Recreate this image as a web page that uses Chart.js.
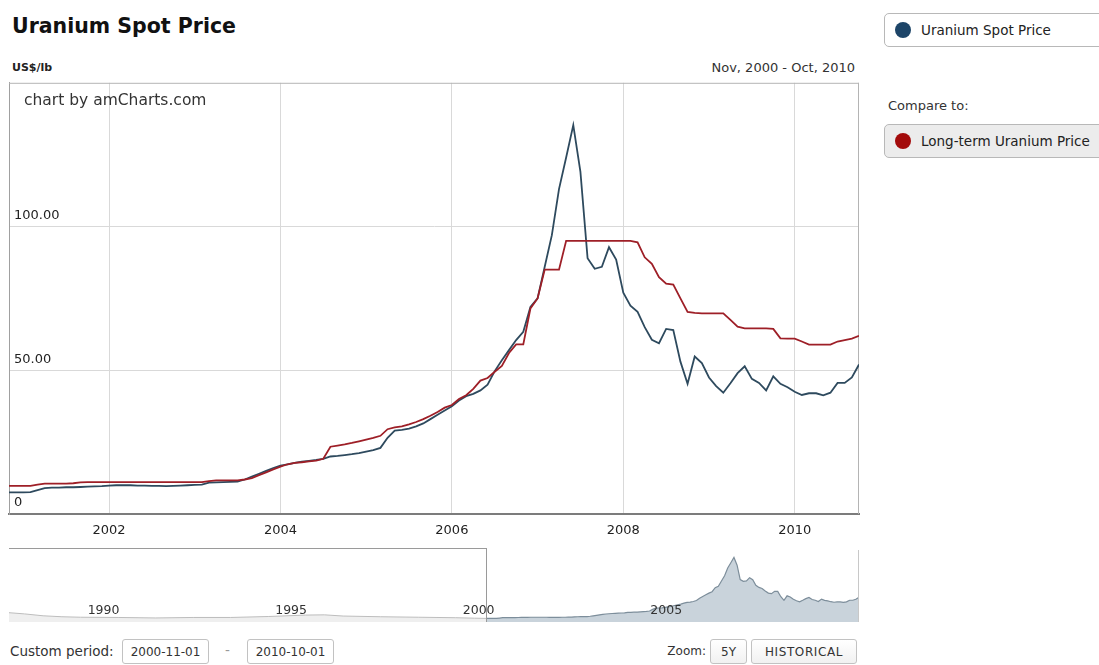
<!DOCTYPE html>
<html>
<head>
<meta charset="utf-8">
<script src="https://cdn.jsdelivr.net/npm/chart.js@4.4.1/dist/chart.umd.min.js"></script>
<style>
  body { margin: 0; width: 1099px; height: 665px; position: relative; overflow: hidden; background: #fff;
         font-family: "DejaVu Sans", Verdana, sans-serif; color: #222; }
  .abs { position: absolute; white-space: nowrap; }
  #title { left: 12px; top: 14px; font-size: 20.5px; font-weight: bold; color: #111; }
  #unit { left: 12px; top: 61px; font-size: 11px; font-weight: bold; color: #222; }
  #period { right: 244px; top: 60px; font-size: 13px; color: #333; }
  #credit { left: 24px; top: 91px; font-size: 15.5px; color: #333; z-index: 2; }
  #mainChart { left: 0; top: 70px; }
  #navChart { left: 9px; top: 548px; }
  #navBox { left: 9px; top: 548px; width: 477px; height: 73px; border-top: 1px solid #9a9a9a; border-right: 1px solid #9a9a9a; z-index: 2; }
  #navEnd { left: 858px; top: 550px; width: 0; height: 72px; border-left: 1px solid #c8c8c8; z-index: 2; }
  .box { position: absolute; border: 1px solid #c2c2c2; border-radius: 3px; background: #fff; font-size: 12px; color: #333;
         display: flex; align-items: center; justify-content: center; box-sizing: border-box; }
  .btn { background: linear-gradient(#ffffff, #f1f1f1); }
  .txt { position: absolute; font-size: 13.5px; color: #333; white-space: nowrap; }
  .legend { position: absolute; left: 884px; width: 240px; box-sizing: border-box; border: 1px solid #b8b8b8; border-radius: 5px;
            display: flex; align-items: center; font-size: 13.5px; color: #222; }
  .dot { width: 16px; height: 16px; border-radius: 50%; margin: 0 10px 0 10px; }
</style>
</head>
<body>
<div id="title" class="abs">Uranium Spot Price</div>
<div id="unit" class="abs">US$/lb</div>
<div id="period" class="abs">Nov, 2000 - Oct, 2010</div>
<div id="credit" class="abs">chart by amCharts.com</div>
<canvas id="mainChart" class="abs" width="870" height="478"></canvas>
<canvas id="navChart" class="abs" width="850" height="80"></canvas>
<div id="navBox" class="abs"></div>
<div id="navEnd" class="abs"></div>

<div class="legend" style="top:13px;height:34px;background:#fff;"><div class="dot" style="background:#1d4568;"></div>Uranium Spot Price</div>
<div class="txt" style="left:888px;top:98px;font-size:13px;">Compare to:</div>
<div class="legend" style="top:124px;height:34px;background:#ececec;"><div class="dot" style="background:#a30b0b;"></div>Long-term Uranium Price</div>

<div class="txt" style="left:10px;top:643px;">Custom period:</div>
<div class="box" style="left:122px;top:639px;width:87px;height:25px;">2000-11-01</div>
<div class="txt" style="left:225px;top:642px;color:#999;">-</div>
<div class="box" style="left:247px;top:639px;width:87px;height:25px;">2010-10-01</div>
<div class="txt" style="right:393px;top:644px;font-size:12px;">Zoom:</div>
<div class="box btn" style="left:710px;top:639px;width:37px;height:25px;">5Y</div>
<div class="box btn" style="left:751px;top:639px;width:106px;height:25px;letter-spacing:0.6px;">HISTORICAL</div>

<script>
// monthly values, Nov 2000 .. Oct 2010 (US$/lb)
const spotPrice = [
  7.5, 7.5,
  7.5, 7.6, 8.3, 9.0, 9.2, 9.2, 9.3, 9.3, 9.4, 9.5, 9.6, 9.7,
  9.9, 10.0, 10.0, 10.0, 9.9, 9.9, 9.8, 9.8, 9.7, 9.8, 9.9, 10.0,
  10.1, 10.2, 10.9, 11.0, 11.1, 11.2, 11.3, 12.0, 13.0, 14.0, 15.0, 16.0,
  16.8, 17.3, 17.8, 18.2, 18.5, 18.8, 19.2, 20.0, 20.2, 20.5, 20.8, 21.2,
  21.7, 22.2, 23.0, 26.5, 29.0, 29.3, 29.7, 30.5, 31.5, 33.0, 34.5, 36.0,
  37.5, 39.5, 41.0, 41.8, 43.0, 45.0, 49.7, 53.5, 57.0, 60.5, 63.4, 72.0,
  75.0, 86.0, 97.0, 113.0, 124.0, 135.3, 119.0, 89.0, 85.3, 86.0, 92.8, 88.5,
  77.0, 72.5, 70.3, 65.0, 60.6, 59.4, 64.4, 64.0, 53.0, 45.3, 54.8, 52.5,
  47.5, 44.5, 42.2, 45.5, 49.0, 51.4, 47.0, 45.6, 43.0, 47.9, 45.3, 44.1,
  42.5, 41.4, 42.0, 42.0, 41.3, 42.2, 45.6, 45.6, 47.5, 52.0
];
const longTermPrice = [
  9.8, 9.8,
  9.8, 9.8, 10.2, 10.6, 10.6, 10.6, 10.6, 10.7, 11.0, 11.1, 11.1, 11.1,
  11.1, 11.1, 11.1, 11.1, 11.1, 11.1, 11.1, 11.1, 11.1, 11.1, 11.1, 11.1,
  11.1, 11.1, 11.4, 11.7, 11.7, 11.7, 11.7, 12.0, 12.5, 13.5, 14.5, 15.5,
  16.5, 17.3, 17.8, 18.0, 18.3, 18.6, 19.2, 23.4, 23.8, 24.2, 24.7, 25.3,
  25.9, 26.5, 27.2, 29.5, 30.1, 30.5, 31.2, 32.0, 33.0, 34.2, 35.5, 37.0,
  37.9, 40.0, 41.3, 43.5, 46.4, 47.3, 49.5, 51.5, 56.0, 59.0, 59.0, 71.5,
  75.0, 85.0, 85.0, 85.0, 95.0, 95.0, 95.0, 95.0, 95.0, 95.0, 95.0, 95.0,
  95.0, 95.0, 94.5, 89.3, 87.0, 82.4, 80.1, 79.8, 75.0, 70.3, 70.0, 69.8,
  69.8, 69.8, 69.8, 67.5, 65.2, 64.6, 64.6, 64.6, 64.6, 64.4, 61.1, 61.0,
  61.0, 60.0, 58.9, 58.9, 58.9, 58.9, 60.0, 60.5, 61.0, 62.0
];
// earlier history shown only in the scroller (decimal years)
const histYears = [1988.09, 1988.5, 1989, 1989.5, 1990, 1991, 1992, 1993, 1994, 1995, 1996, 1996.5, 1997, 1998, 1999, 2000, 2000.5, 2000.833];
const histPrice = [19.5, 17, 13, 11, 10, 9.5, 8.5, 9.5, 9.5, 11.5, 14.5, 15, 12.5, 11, 10, 9, 8, 7.5];

const xTicks = [2002, 2004, 2006, 2008, 2010];
const yTicks = [0, 50, 100];
const navTicks = [1990, 1995, 2000, 2005];

// month labels starting Nov 2000
const months = [];
for (let i = 0; i < spotPrice.length; i++) {
  const m = 10 + i;
  months.push((2000 + Math.floor(m / 12)) + '-' + String(m % 12 + 1).padStart(2, '0'));
}
const monthX = months.map(s => Number(s.slice(0, 4)) + (Number(s.slice(5)) - 1) / 12);

const font = { family: 'DejaVu Sans', size: 13 };

const frame = {
  id: 'frame',
  beforeDatasetsDraw(chart) {
    const { ctx, chartArea: a } = chart;
    ctx.save();
    ctx.strokeStyle = '#b4b4b4';
    ctx.lineWidth = 1;
    ctx.beginPath();
    ctx.moveTo(a.left, a.top + 0.5);
    ctx.lineTo(a.right, a.top + 0.5);
    ctx.moveTo(a.right - 0.5, a.top);
    ctx.lineTo(a.right - 0.5, a.bottom);
    ctx.stroke();
    ctx.restore();
  }
};

new Chart(document.getElementById('mainChart'), {
  type: 'line',
  data: {
    datasets: [
      {
        label: 'Long-term Uranium Price',
        data: longTermPrice.map((v, i) => ({ x: monthX[i], y: v })),
        borderColor: '#9e1f27',
        borderWidth: 1.8,
        pointRadius: 0,
        tension: 0,
        order: 0
      },
      {
        label: 'Uranium Spot Price',
        data: spotPrice.map((v, i) => ({ x: monthX[i], y: v })),
        borderColor: '#2e4a5e',
        borderWidth: 1.8,
        pointRadius: 0,
        tension: 0,
        order: 1
      }
    ]
  },
  options: {
    responsive: false,
    animation: false,
    layout: { padding: { left: 9, right: 11, top: 11, bottom: 0 } },
    plugins: { legend: { display: false }, tooltip: { enabled: false } },
    scales: {
      x: {
        type: 'linear',
        min: monthX[0],
        max: monthX[monthX.length - 1],
        afterBuildTicks: s => { s.ticks = xTicks.map(v => ({ value: v })); },
        afterFit: s => { s.height = 34; },
        grid: { color: '#d9d9d9', drawTicks: false },
        border: { color: '#7c7c7c', width: 2 },
        ticks: { padding: 9, color: '#222', font: font, autoSkip: false, maxRotation: 0, callback: v => String(v) }
      },
      y: {
        min: 0,
        max: 150,
        afterBuildTicks: s => { s.ticks = yTicks.map(v => ({ value: v })); },
        afterFit: s => { s.width = 0; },
        grid: { color: '#d9d9d9', drawTicks: false },
        border: { color: '#a0a0a0', width: 1 },
        ticks: { mirror: true, padding: 5, labelOffset: -11, color: '#222', font: font,
                 callback: v => v === 0 ? '0' : v.toFixed(2) }
      }
    }
  },
  plugins: [frame]
});

new Chart(document.getElementById('navChart'), {
  type: 'line',
  data: {
    datasets: [
      {
        data: histPrice.map((v, i) => ({ x: histYears[i], y: v })),
        borderColor: '#bdbdbd',
        backgroundColor: '#efefef',
        fill: 'origin',
        borderWidth: 1,
        pointRadius: 0,
        tension: 0
      },
      {
        data: spotPrice.map((v, i) => ({ x: monthX[i], y: v })),
        borderColor: '#7d8e9b',
        backgroundColor: '#c9d3db',
        fill: 'origin',
        borderWidth: 1.2,
        pointRadius: 0,
        tension: 0
      }
    ]
  },
  options: {
    responsive: false,
    animation: false,
    layout: { padding: 0 },
    plugins: { legend: { display: false }, tooltip: { enabled: false } },
    scales: {
      x: {
        type: 'linear',
        min: 1988.09,
        max: monthX[monthX.length - 1],
        afterBuildTicks: s => { s.ticks = navTicks.map(v => ({ value: v })); },
        afterFit: s => { s.height = 6; },
        grid: { display: false },
        border: { display: false },
        ticks: { z: 1, mirror: true, padding: 4, align: 'start', labelOffset: 7, color: '#333', autoSkip: false, maxRotation: 0,
                 font: { family: 'DejaVu Sans', size: 12.5 }, callback: v => String(v) }
      },
      y: { display: false, min: 0, max: 155 }
    }
  }
});
</script>
</body>
</html>
